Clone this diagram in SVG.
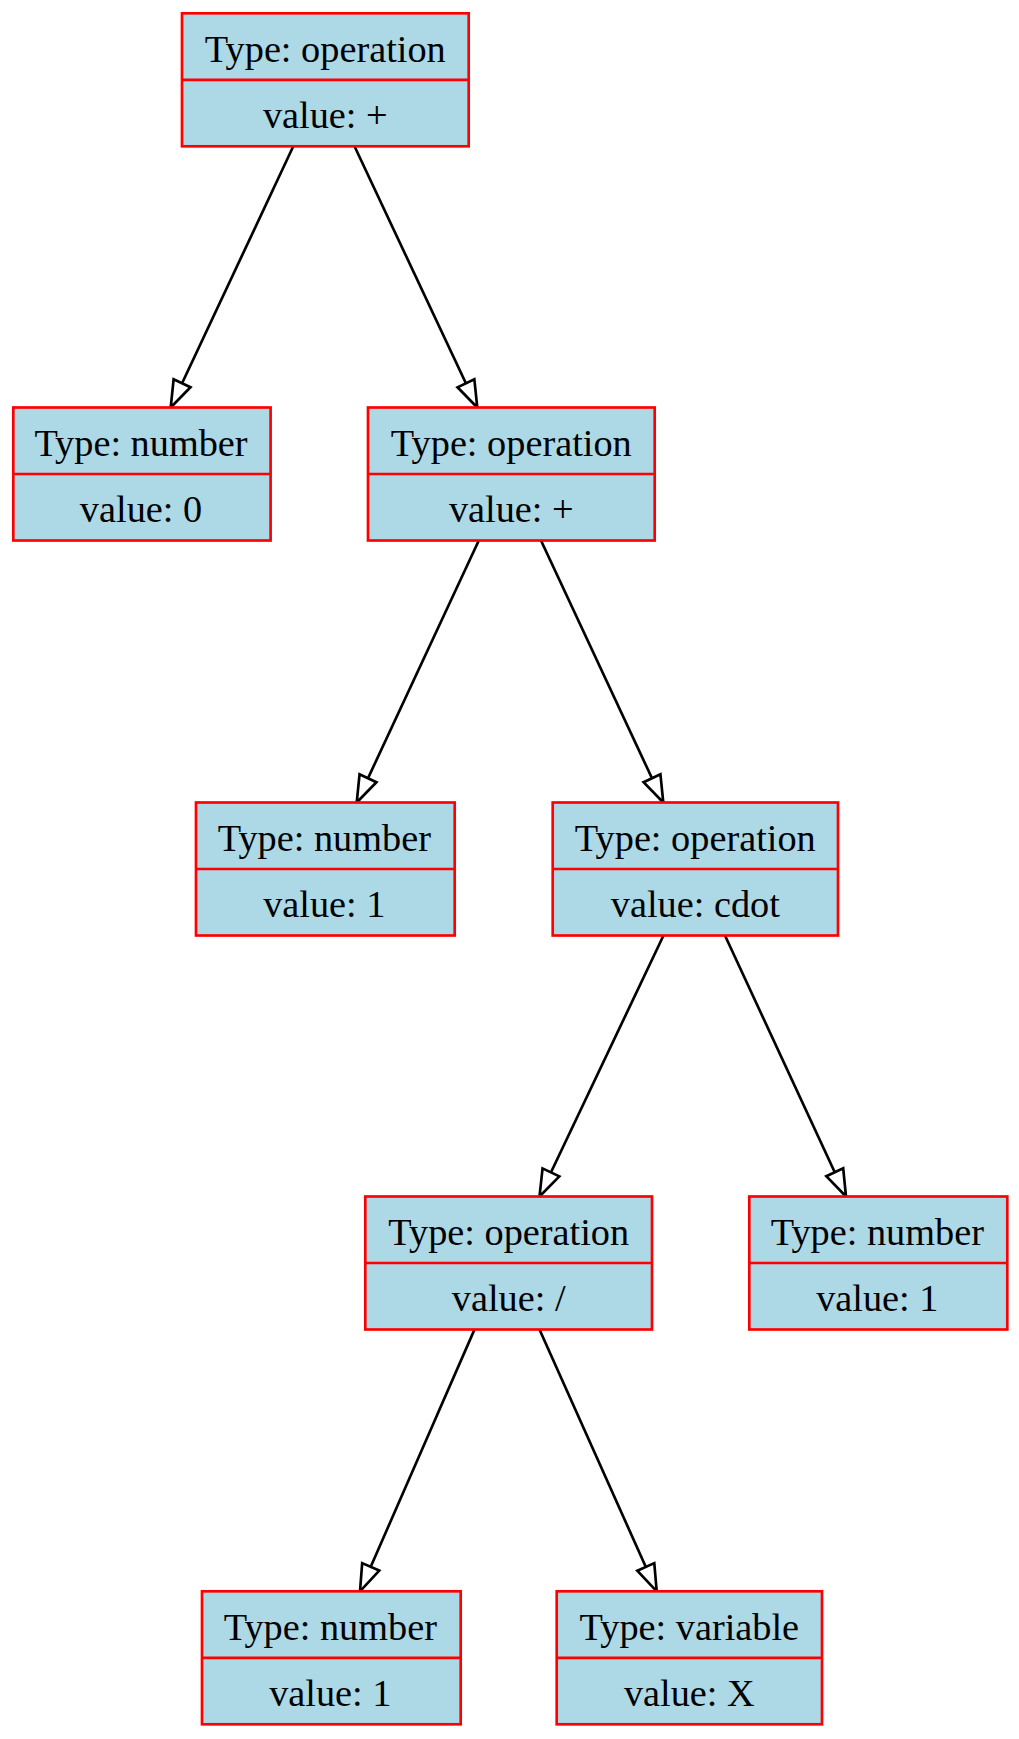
<svg xmlns="http://www.w3.org/2000/svg" width="1019" height="1739" viewBox="0 0 1019 1739">
<style>
.box{fill:#add8e6;stroke:#ff0000;stroke-width:2.67}
.div{stroke:#ff0000;stroke-width:2.67}
.t{font-family:"Liberation Serif","Times New Roman",serif;font-size:38.3px;fill:#000;text-anchor:middle}
.e{fill:none;stroke:#000;stroke-width:2.67}
</style>
<defs>
<marker id="ah" markerUnits="userSpaceOnUse" viewBox="-3 -13 33 26" markerWidth="33" markerHeight="26" refX="26.7" refY="0" orient="auto" overflow="visible">
<path d="M0,-9.3 L26.7,0 L0,9.3 Z" fill="#fff" stroke="#000" stroke-width="2.67"/>
</marker>
</defs>
<rect width="1019" height="1739" fill="#fff"/>
<g id="connectors">
<path class="e" marker-end="url(#ah)" d="M293.3,146.3 L170.7,407.5"/>
<path class="e" marker-end="url(#ah)" d="M354.5,146.3 L477.3,407.5"/>
<path class="e" marker-end="url(#ah)" d="M478.8,540.5 L356.7,802.5"/>
<path class="e" marker-end="url(#ah)" d="M541,540.5 L663.3,802.5"/>
<path class="e" marker-end="url(#ah)" d="M663.5,935.5 L539.5,1196.5"/>
<path class="e" marker-end="url(#ah)" d="M725,935.5 L846,1196.5"/>
<path class="e" marker-end="url(#ah)" d="M474.5,1329.5 L360,1591.3"/>
<path class="e" marker-end="url(#ah)" d="M539.5,1329.5 L656.7,1591.3"/>
</g>
<g id="n1">
<rect class="box" x="182" y="13.3" width="286.7" height="133"/>
<line class="div" x1="182" y1="79.8" x2="468.7" y2="79.8"/>
<text class="t" x="325.3" y="61.5">Type: operation</text>
<text class="t" x="325.3" y="127.5">value: +</text>
</g>
<g id="n2">
<rect class="box" x="13.3" y="407.5" width="257.3" height="133"/>
<line class="div" x1="13.3" y1="474" x2="270.6" y2="474"/>
<text class="t" x="141" y="455.7">Type: number</text>
<text class="t" x="141" y="521.7">value: 0</text>
</g>
<g id="n3">
<rect class="box" x="368" y="407.5" width="286.7" height="133"/>
<line class="div" x1="368" y1="474" x2="654.7" y2="474"/>
<text class="t" x="511.3" y="455.7">Type: operation</text>
<text class="t" x="511.3" y="521.7">value: +</text>
</g>
<g id="n4">
<rect class="box" x="196" y="802.5" width="258.7" height="133"/>
<line class="div" x1="196" y1="869" x2="454.7" y2="869"/>
<text class="t" x="324.3" y="850.7">Type: number</text>
<text class="t" x="324.3" y="916.7">value: 1</text>
</g>
<g id="n5">
<rect class="box" x="552.7" y="802.5" width="285.3" height="133"/>
<line class="div" x1="552.7" y1="869" x2="838" y2="869"/>
<text class="t" x="695.3" y="850.7">Type: operation</text>
<text class="t" x="695.3" y="916.7">value: cdot</text>
</g>
<g id="n6">
<rect class="box" x="365.3" y="1196.5" width="286.7" height="133"/>
<line class="div" x1="365.3" y1="1263" x2="652" y2="1263"/>
<text class="t" x="508.7" y="1244.7">Type: operation</text>
<text class="t" x="508.7" y="1310.7">value: /</text>
</g>
<g id="n7">
<rect class="box" x="749.3" y="1196.5" width="258" height="133"/>
<line class="div" x1="749.3" y1="1263" x2="1007.3" y2="1263"/>
<text class="t" x="877.3" y="1244.7">Type: number</text>
<text class="t" x="877.3" y="1310.7">value: 1</text>
</g>
<g id="n8">
<rect class="box" x="202" y="1591.3" width="258.7" height="133"/>
<line class="div" x1="202" y1="1657.8" x2="460.7" y2="1657.8"/>
<text class="t" x="330.3" y="1639.5">Type: number</text>
<text class="t" x="330.3" y="1705.5">value: 1</text>
</g>
<g id="n9">
<rect class="box" x="556.7" y="1591.3" width="265.3" height="133"/>
<line class="div" x1="556.7" y1="1657.8" x2="822" y2="1657.8"/>
<text class="t" x="689.3" y="1639.5">Type: variable</text>
<text class="t" x="689.3" y="1705.5">value: X</text>
</g>
</svg>
